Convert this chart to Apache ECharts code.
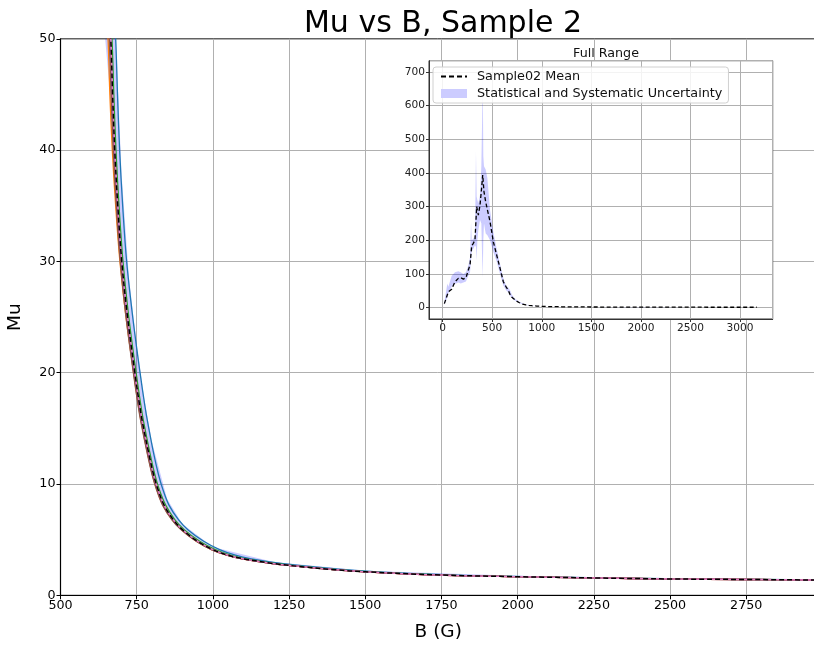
<!DOCTYPE html>
<html>
<head>
<meta charset="utf-8">
<script src="https://cdn.jsdelivr.net/npm/echarts@6/dist/echarts.min.js"></script>
<style>html,body{margin:0;padding:0;background:#fff}#c{width:814px;height:645px}</style>
</head>
<body>
<div id="c"></div>
<script>
// ---- Data ----
// Mean curve (full range)
var meanB  = [17, 57, 91, 124, 158, 182, 209, 235, 259, 276, 293, 309, 326, 343, 360, 377, 394, 404, 417, 434, 451, 478, 511, 545, 579, 612, 640, 652, 665, 671, 678, 688, 701, 720, 744, 760, 770, 790, 805, 820, 840, 870, 900, 950, 1000, 1050, 1100, 1200, 1300, 1400, 1500, 1750, 2000, 2250, 2500, 2750, 3000, 3170];
var meanMu = [12, 47, 55, 77, 87, 89, 85, 89, 112, 127, 184, 191, 201, 300, 275, 305, 359, 394, 344, 314, 309, 255, 196, 156, 117, 77, 62, 56.5, 50, 45, 40, 35, 30, 25, 20, 17, 15.4, 12.7, 10.9, 9.5, 8.1, 6.8, 5.9, 4.85, 4.1, 3.6, 3.28, 2.85, 2.55, 2.3, 2.11, 1.82, 1.67, 1.56, 1.47, 1.42, 1.37, 1.35];

// Uncertainty band
var bandB  = [17, 47, 57, 91, 124, 158, 182, 209, 235, 259, 276, 286, 293, 309, 326, 336, 343, 350, 360, 377, 390, 398, 404, 410, 417, 434, 451, 478, 511, 545, 579, 612, 640, 665, 680, 700, 725, 750, 775, 800, 850, 900, 1000, 1200, 1500, 2000, 2500, 3170];
var bandHi = [16, 72, 62, 95, 105, 108, 105, 100, 105, 125, 150, 255, 200, 205, 215, 465, 330, 320, 310, 335, 420, 560, 695, 450, 420, 410, 385, 290, 225, 175, 130, 88, 66, 58.5, 51.5, 38, 28.4, 22.5, 17.6, 13.8, 8.65, 6.4, 4.35, 3.0, 2.2, 1.75, 1.52, 1.4];
var bandLo = [8, 30, 42, 62, 70, 75, 72, 75, 78, 95, 105, 140, 165, 175, 185, 180, 140, 200, 230, 260, 250, 150, 89, 200, 250, 220, 215, 200, 165, 137, 100, 66, 52, 44.3, 35.5, 28.4, 22.5, 17.6, 13.8, 10.7, 7.35, 5.75, 4.03, 2.75, 2.05, 1.62, 1.44, 1.3];

// Individual runs (main panel): B value of each run at these Mu levels
var runMu     = [62, 56.5, 50, 45, 40, 35, 30, 25, 20, 17, 15.4, 12.7, 10.9, 9.5, 8.1, 6.8, 5.9, 4.85, 4.1, 3.6, 3.28, 2.85, 2.55, 2.3, 2.11, 1.82, 1.67, 1.56, 1.47, 1.42, 1.37];
var runBlue   = [656, 668, 681, 687, 694, 704, 717, 737, 761, 777, 787, 806, 821, 836, 856, 887, 918, 970, 1022, 1074, 1126, 1230, 1333, 1435, 1538, 1795, 2045, 2295, 2545, 2795, 3045];
var runOrange = [631, 643, 656, 662, 670, 681, 695, 715, 740, 756, 766, 786, 801, 816, 836, 866, 896, 946, 996, 1046, 1096, 1196, 1296, 1396, 1496, 1746, 1996, 2246, 2496, 2746, 2996];
var runGreen  = [644, 656, 669, 675, 682, 692, 705, 724, 748, 764, 774, 794, 809, 824, 845, 875, 906, 957, 1008, 1058, 1108, 1209, 1310, 1410, 1510, 1762, 2012, 2262, 2512, 2762, 3012];
var runRed    = [637, 649, 662, 668, 675, 685, 698, 717, 741, 757, 767, 787, 802, 817, 837, 867, 897, 947, 997, 1047, 1097, 1197, 1297, 1397, 1497, 1747, 1997, 2247, 2497, 2747, 2997];
var runPurple = [638, 650, 663, 669, 676, 686, 699, 718, 742, 758, 768, 788, 803, 818, 838, 868, 898, 948, 998, 1048, 1098, 1198, 1298, 1398, 1498, 1748, 1998, 2248, 2498, 2748, 2998];
var runBrown  = [635, 647, 660, 666, 673, 683, 696, 715, 739, 755, 765, 785, 800, 815, 835, 865, 895, 945, 995, 1045, 1095, 1195, 1295, 1395, 1495, 1745, 1995, 2245, 2495, 2745, 2995];
var runPink   = [640, 652, 665, 671, 678, 688, 701, 720, 744, 760, 770, 790, 805, 820, 840, 870, 900, 950, 1000, 1050, 1100, 1200, 1300, 1400, 1500, 1750, 2000, 2250, 2500, 2750, 3000];

var runs = [
  {b: runBlue, c: '#1f77b4'},
  {b: runOrange, c: '#ff7f0e'},
  {b: runGreen, c: '#2ca02c'},
  {b: runRed, c: '#d62728'},
  {b: runPurple, c: '#9467bd'},
  {b: runBrown, c: '#8c564b'},
  {b: runPink, c: '#e377c2'}
];

var FONT = 'DejaVu Sans';
var meanData = meanB.map(function (b, i) { return [b, meanMu[i]]; });
var bandData = bandB.map(function (b, i) { return [b, bandLo[i], bandHi[i]]; });
function plain(v) { return String(v); }

function bandRender(params, api) {
  if (params.dataIndex !== 0) return null;
  var top = [], bot = [];
  for (var i = 0; i < bandData.length; i++) {
    top.push(api.coord([bandData[i][0], bandData[i][2]]));
    bot.push(api.coord([bandData[i][0], bandData[i][1]]));
  }
  var pts = top.concat(bot.reverse());
  return {
    type: 'polygon',
    shape: {points: pts},
    style: {fill: 'rgba(0,0,255,0.2)', stroke: null}
  };
}

var series = [];
// main panel
series.push({
  type: 'custom', name: 'Statistical and Systematic Uncertainty', xAxisIndex: 0, yAxisIndex: 0,
  data: bandData, renderItem: bandRender, clip: true, z: 2, silent: true,
  itemStyle: {color: '#ccccff'}
});
runs.forEach(function (r, k) {
  series.push({
    type: 'line', name: 'run' + k, xAxisIndex: 0, yAxisIndex: 0,
    data: r.b.map(function (b, i) { return [b, runMu[i]]; }),
    showSymbol: false, symbol: 'none', smooth: 0.35, clip: true,
    lineStyle: {color: r.c, width: 1.3}, z: 3, silent: true
  });
});
series.push({
  type: 'line', name: 'Sample02 Mean', xAxisIndex: 0, yAxisIndex: 0,
  data: meanData, showSymbol: false, symbol: 'none', smooth: 0.35, clip: true,
  lineStyle: {color: '#000', width: 1.5, type: [5, 3]}, itemStyle: {color: '#000'}, z: 4, silent: true
});
// inset
series.push({
  type: 'custom', name: 'Statistical and Systematic Uncertainty', xAxisIndex: 1, yAxisIndex: 1,
  data: bandData, renderItem: bandRender, clip: true, z: 7, silent: true,
  itemStyle: {color: '#ccccff'}
});
series.push({
  type: 'line', name: 'Sample02 Mean', xAxisIndex: 1, yAxisIndex: 1,
  data: meanData, showSymbol: false, symbol: 'none', clip: true,
  lineStyle: {color: '#000', width: 1.3, type: [4, 2.5]}, itemStyle: {color: '#000'}, z: 8, silent: true
});

var chart = echarts.init(document.getElementById('c'), null, {renderer: 'canvas'});
chart.setOption({
  animation: false,
  backgroundColor: '#fff',
  textStyle: {fontFamily: FONT},
  title: [
    {text: 'Mu vs B, Sample 2', left: 438, top: 4, textAlign: 'center',
     textStyle: {fontFamily: FONT, fontSize: 30, fontWeight: 'normal', color: '#000'}},
    {text: 'Full Range', left: 601, top: 42, textAlign: 'center', z: 9,
     textStyle: {fontFamily: FONT, fontSize: 12.7, fontWeight: 'normal', color: '#111'}}
  ],
  legend: {
    data: [
      {name: 'Sample02 Mean', itemStyle: {opacity: 0}},
      {name: 'Statistical and Systematic Uncertainty', icon: 'rect', itemStyle: {color: '#ccccff'}}
    ],
    left: 433, top: 67, orient: 'vertical', itemGap: 4, itemWidth: 26, itemHeight: 9,
    padding: [3, 6, 3, 7], backgroundColor: 'rgba(255,255,255,0.85)', borderColor: '#d0d0d0', borderWidth: 1, borderRadius: 3,
    textStyle: {fontFamily: FONT, fontSize: 12.8, color: '#111', padding: [0, 0, 0, 5]}, z: 10, selectedMode: false
  },
  grid: [
    {left: 60.5, top: 38.8, right: -2, bottom: 49.7, show: true, borderColor: '#222', borderWidth: 1,
     backgroundColor: 'transparent', outerBoundsMode: 'none', containLabel: false},
    {left: 429, top: 60.7, right: 41.3, bottom: 326, show: true, borderColor: '#333', borderWidth: 1,
     backgroundColor: '#fff', z: 5, outerBoundsMode: 'none', containLabel: false}
  ],
  xAxis: [
    {type: 'value', gridIndex: 0, min: 500, max: 2979, interval: 250,
     name: 'B (G)', nameLocation: 'middle', nameGap: 27,
     nameTextStyle: {fontFamily: FONT, fontSize: 18.5, color: '#000'},
     axisLine: {show: true, onZero: false, lineStyle: {color: '#000', width: 1.2}},
     axisTick: {show: true, length: 4, lineStyle: {color: '#000'}},
     axisLabel: {fontFamily: FONT, fontSize: 12.7, color: '#000', margin: 4, showMaxLabel: false, formatter: plain},
     splitLine: {show: true, lineStyle: {color: '#b0b0b0', width: 1}}},
    {type: 'value', gridIndex: 1, min: -138, max: 3330, minInterval: 500, maxInterval: 500, z: 6,
     axisLine: {show: true, onZero: false, lineStyle: {color: '#333'}},
     axisTick: {show: true, length: 3, lineStyle: {color: '#333'}},
     axisLabel: {fontFamily: FONT, fontSize: 10.6, color: '#222', margin: 4, showMinLabel: false, showMaxLabel: false, formatter: plain},
     splitLine: {show: true, lineStyle: {color: '#b0b0b0', width: 1}}}
  ],
  yAxis: [
    {type: 'value', gridIndex: 0, min: 0, max: 50, interval: 10,
     name: 'Mu', nameLocation: 'middle', nameGap: 36,
     nameTextStyle: {fontFamily: FONT, fontSize: 18.5, color: '#000'},
     axisLine: {show: true, onZero: false, lineStyle: {color: '#000', width: 1.2}},
     axisTick: {show: true, length: 4, lineStyle: {color: '#000'}},
     axisLabel: {fontFamily: FONT, fontSize: 12.7, color: '#000', margin: 5, formatter: plain},
     splitLine: {show: true, lineStyle: {color: '#b0b0b0', width: 1}}},
    {type: 'value', gridIndex: 1, min: -33.5, max: 733, minInterval: 100, maxInterval: 100, z: 6,
     axisLine: {show: true, onZero: false, lineStyle: {color: '#333'}},
     axisTick: {show: true, length: 3, lineStyle: {color: '#333'}},
     axisLabel: {fontFamily: FONT, fontSize: 10.6, color: '#222', margin: 4, showMinLabel: false, showMaxLabel: false, formatter: plain},
     splitLine: {show: true, lineStyle: {color: '#b0b0b0', width: 1}}}
  ],
  series: series
});
</script>
</body>
</html>
